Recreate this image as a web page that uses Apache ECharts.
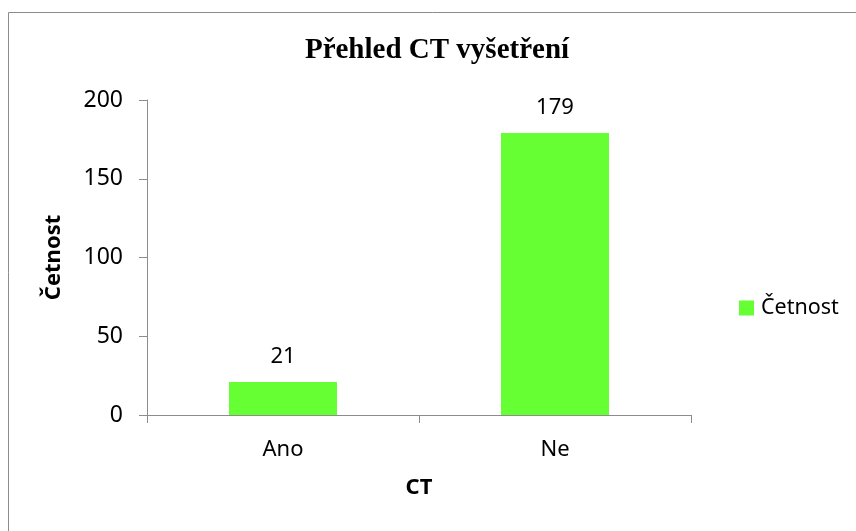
<!DOCTYPE html>
<html>
<head>
<meta charset="utf-8">
<script src="https://cdn.jsdelivr.net/npm/echarts@6/dist/echarts.min.js"></script>
<style>html,body{margin:0;padding:0;background:#fff}#c{width:856px;height:531px}</style>
</head>
<body>
<div id="c"></div>
<script>
var categories = ['Ano', 'Ne'];
var seriesName = 'Četnost';
var values = [21, 179];
var yTicks = { min: 0, max: 200, interval: 50 };

var chart = echarts.init(document.getElementById('c'), null, { renderer: 'canvas' });
var axisColor = '#8c8c8c';
var font = 'Noto Sans';
chart.setOption({
  animation: false,
  backgroundColor: '#fff',
  graphic: [{
    type: 'rect', silent: true,
    shape: { x: 8.5, y: 12.5, width: 900, height: 600 },
    style: { fill: 'none', stroke: '#8c8c8c', lineWidth: 1 }
  }],
  title: {
    text: 'Přehled CT vyšetření',
    left: 432, top: 31, textAlign: 'center',
    textStyle: { fontFamily: 'Liberation Serif', fontWeight: 'bold', fontSize: 29, color: '#000' }
  },
  legend: {
    data: [seriesName],
    left: 734, top: 292, orient: 'vertical',
    itemWidth: 15, itemHeight: 15, itemGap: 5,
    icon: 'rect',
    textStyle: { fontFamily: font, fontSize: 21.5, color: '#000', padding: [0, 0, 0, 2] }
  },
  grid: { left: 147, right: 165, top: 100, bottom: 116, containLabel: false },
  xAxis: {
    type: 'category', data: categories,
    name: 'CT', nameLocation: 'middle', nameGap: 62,
    nameTextStyle: { fontFamily: font, fontWeight: 'bold', fontSize: 22, color: '#000' },
    axisLine: { show: true, lineStyle: { color: axisColor, width: 1 } },
    axisTick: { show: true, length: 8, alignWithLabel: false, lineStyle: { color: axisColor } },
    axisLabel: { fontFamily: font, fontSize: 22, color: '#000', margin: 24 },
    splitLine: { show: false }
  },
  yAxis: {
    type: 'value', min: yTicks.min, max: yTicks.max, interval: yTicks.interval,
    name: 'Četnost', nameLocation: 'middle', nameGap: 82, nameRotate: 90,
    nameTextStyle: { fontFamily: font, fontWeight: 'bold', fontSize: 22, color: '#000' },
    axisLine: { show: true, lineStyle: { color: axisColor, width: 1 } },
    axisTick: { show: true, length: 8, lineStyle: { color: axisColor } },
    axisLabel: { fontFamily: font, fontSize: 23, color: '#000', margin: 24 },
    splitLine: { show: false }
  },
  series: [{
    name: seriesName, type: 'bar', data: values,
    barWidth: 108,
    itemStyle: { color: '#66ff33' },
    label: { show: true, position: 'top', distance: 14, fontFamily: font, fontSize: 22, color: '#000' }
  }]
});
</script>
</body>
</html>
